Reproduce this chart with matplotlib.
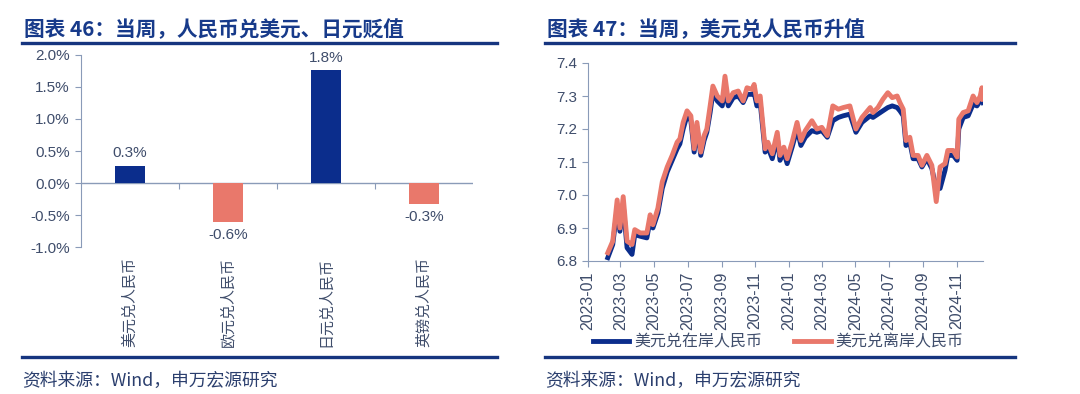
import matplotlib
matplotlib.use("Agg")
import matplotlib.pyplot as plt
from matplotlib.lines import Line2D
import pandas as pd

plt.rcParams['font.family'] = ['Noto Sans CJK SC', 'DejaVu Sans']

# ---------------- data ----------------
bar_categories = ["美元兑人民币", "欧元兑人民币", "日元兑人民币", "英镑兑人民币"]
bar_values = [0.27, -0.61, 1.76, -0.33]  # weekly change, %
bar_colors_key = ["up", "down", "up", "down"]

line_dates = [
    "2023-02-06", "2023-02-15", "2023-02-23", "2023-02-28", "2023-03-06", "2023-03-13",
    "2023-03-22", "2023-03-27", "2023-04-06", "2023-04-18", "2023-04-24", "2023-04-29",
    "2023-05-08", "2023-05-16", "2023-05-25", "2023-06-03", "2023-06-12", "2023-06-17",
    "2023-06-23", "2023-06-30", "2023-07-07", "2023-07-13", "2023-07-18", "2023-07-25",
    "2023-07-31", "2023-08-05", "2023-08-11", "2023-08-16", "2023-08-24", "2023-09-02",
    "2023-09-07", "2023-09-13", "2023-09-22", "2023-10-01", "2023-10-10", "2023-10-17",
    "2023-10-26", "2023-10-30", "2023-11-04", "2023-11-10", "2023-11-19", "2023-11-24",
    "2023-12-02", "2023-12-11", "2023-12-16", "2023-12-23", "2023-12-29", "2024-01-07",
    "2024-01-16", "2024-01-23", "2024-01-31", "2024-02-12", "2024-02-21", "2024-03-01",
    "2024-03-11", "2024-03-21", "2024-03-31", "2024-04-09", "2024-04-21", "2024-05-02",
    "2024-05-13", "2024-05-28", "2024-06-02", "2024-06-11", "2024-06-20", "2024-06-29",
    "2024-07-07", "2024-07-16", "2024-07-21", "2024-07-27", "2024-08-01", "2024-08-08",
    "2024-08-14", "2024-08-23", "2024-08-30", "2024-09-08", "2024-09-17", "2024-09-25",
    "2024-10-02", "2024-10-11", "2024-10-16", "2024-10-26", "2024-11-02", "2024-11-05",
    "2024-11-13", "2024-11-22", "2024-12-01", "2024-12-08", "2024-12-14", "2024-12-17",
    "2024-12-19",
]
usdcny_onshore = [
    6.810, 6.850, 6.960, 6.890, 6.970, 6.840,
    6.820, 6.880, 6.875, 6.870, 6.925, 6.900,
    6.945, 7.020, 7.070, 7.105, 7.140, 7.155,
    7.200, 7.240, 7.225, 7.130, 7.205, 7.120,
    7.165, 7.190, 7.250, 7.310, 7.285, 7.270,
    7.320, 7.270, 7.295, 7.300, 7.280, 7.305,
    7.305, 7.310, 7.270, 7.280, 7.130, 7.145,
    7.110, 7.175, 7.105, 7.130, 7.095, 7.145,
    7.200, 7.150, 7.175, 7.195, 7.190, 7.195,
    7.175, 7.225, 7.235, 7.240, 7.245, 7.190,
    7.220, 7.240, 7.235, 7.245, 7.255, 7.265,
    7.270, 7.265, 7.255, 7.240, 7.150, 7.160,
    7.110, 7.110, 7.085, 7.110, 7.080, 7.020,
    7.020, 7.075, 7.120, 7.120, 7.105, 7.200,
    7.235, 7.240, 7.275, 7.270, 7.285, 7.290,
    7.280,
]
usdcnh_offshore = [
    6.825, 6.860, 6.985, 6.900, 6.995, 6.860,
    6.850, 6.895, 6.885, 6.885, 6.940, 6.910,
    6.960, 7.040, 7.085, 7.120, 7.160, 7.170,
    7.220, 7.255, 7.240, 7.140, 7.220, 7.130,
    7.180, 7.200, 7.270, 7.330, 7.300, 7.285,
    7.360, 7.285, 7.310, 7.315, 7.285, 7.325,
    7.320, 7.335, 7.285, 7.300, 7.140, 7.160,
    7.125, 7.190, 7.120, 7.145, 7.110, 7.160,
    7.220, 7.165, 7.195, 7.225, 7.200, 7.205,
    7.180, 7.270, 7.260, 7.265, 7.270, 7.200,
    7.235, 7.265, 7.250, 7.265, 7.290, 7.310,
    7.295, 7.300, 7.280, 7.260, 7.165, 7.175,
    7.120, 7.120, 7.090, 7.120, 7.090, 6.980,
    7.085, 7.095, 7.135, 7.135, 7.115, 7.230,
    7.250, 7.255, 7.300, 7.280, 7.300, 7.325,
    7.290,
]
line_labels = ["美元兑在岸人民币", "美元兑离岸人民币"]

titles = ["图表 46：当周，人民币兑美元、日元贬值", "图表 47：当周，美元兑人民币升值"]
source_text = "资料来源：Wind，申万宏源研究"

# ---------------- style ----------------
NAVY = "#0B2D8C"
SALMON = "#E9786B"
TITLE_C = "#173A8A"
RULE_C = "#16357F"
TXT_C = "#3F4D6B"
AX_C = "#8A9BB8"
NUM_FONT = ['Liberation Sans', 'Noto Sans CJK SC']
LW = 3.5

W, H = 1080, 394
fig = plt.figure(figsize=(W / 100, H / 100), dpi=100)

def fx(px):
    return px / W

def fy(py):
    return 1 - py / H

# titles / rules / source
for (x0, x1), t in zip([(22, 497), (545, 1015)], titles):
    fig.text(fx(x0 + 2), fy(30), t, fontsize=14.9, fontweight='bold', color=TITLE_C,
             ha='left', va='center')
    fig.add_artist(Line2D([fx(x0), fx(x1)], [fy(43), fy(43)], color=RULE_C, lw=2.4))
    fig.add_artist(Line2D([fx(x0), fx(x1)], [fy(357), fy(357)], color=RULE_C, lw=2.4))
    fig.text(fx(x0), fy(381), source_text, fontsize=12.8, color="#2B3F6E",
             ha='left', va='center')

# ---------------- left: bar chart ----------------
axL = fig.add_axes([fx(81), fy(247), fx(473 - 81), (247 - 55) / H])
pos = list(range(len(bar_categories)))
cols = [NAVY if k == "up" else SALMON for k in bar_colors_key]
axL.bar(pos, bar_values, width=0.31, color=cols, zorder=3)
axL.set_xlim(-0.5, len(bar_categories) - 0.5)
axL.set_ylim(-1.0, 2.0)
axL.set_yticks([-1.0, -0.5, 0.0, 0.5, 1.0, 1.5, 2.0])
axL.set_yticklabels([f"{v:.1f}%" for v in axL.get_yticks()], family=NUM_FONT,
                    fontsize=11, color=TXT_C)
axL.set_xticks(pos)
axL.set_xticklabels(bar_categories, rotation=90, fontsize=10.8, color=TXT_C, va='top')
axL.tick_params(axis='x', length=0, pad=7)
axL.tick_params(axis='y', length=4, color=AX_C, direction='out', pad=4)
for s in ['top', 'right', 'bottom']:
    axL.spines[s].set_visible(False)
axL.spines['left'].set_color(AX_C)
axL.axhline(0, color=AX_C, lw=1.0, zorder=2)
sec = axL.secondary_xaxis(1 / 3)
sec.set_xticks([0.5, 1.5, 2.5])
sec.set_xticklabels([])
sec.tick_params(axis='x', direction='out', length=4, color=AX_C)
sec.spines['bottom'].set_visible(False)
for p, v in zip(pos, bar_values):
    off = 0.09 if v >= 0 else -0.09
    axL.text(p, v + off, f"{v:.1f}%", ha='center', va='bottom' if v >= 0 else 'top',
             fontsize=11, color=TXT_C, family=NUM_FONT)

# ---------------- right: line chart ----------------
axR = fig.add_axes([fx(588), fy(261), fx(983 - 588), (261 - 63) / H])
d = pd.to_datetime(line_dates)
axR.plot(d, usdcny_onshore, color=NAVY, lw=LW, label=line_labels[0], zorder=3,
         solid_joinstyle='round')
axR.plot(d, usdcnh_offshore, color=SALMON, lw=LW, label=line_labels[1], zorder=4,
         solid_joinstyle='round')
axR.set_xlim(pd.Timestamp("2023-01-01"), pd.Timestamp("2024-12-19"))
axR.set_ylim(6.8, 7.4)
axR.set_yticks([6.8, 6.9, 7.0, 7.1, 7.2, 7.3, 7.4])
axR.set_yticklabels([f"{v:.1f}" for v in axR.get_yticks()], family=NUM_FONT,
                    fontsize=11, color=TXT_C)
ticks = pd.date_range("2023-01-01", "2024-11-01", freq="2MS")
axR.set_xticks(ticks)
axR.set_xticklabels([t.strftime("%Y-%m") for t in ticks], rotation=90, family=NUM_FONT,
                    fontsize=11.5, color=TXT_C)
axR.tick_params(axis='both', length=4, color=AX_C, direction='out')
for s in ['top', 'right']:
    axR.spines[s].set_visible(False)
axR.spines['left'].set_color(AX_C)
axR.spines['bottom'].set_color(AX_C)

handles = [Line2D([], [], color=NAVY, lw=LW), Line2D([], [], color=SALMON, lw=LW)]
fig.legend(handles, line_labels, loc='center', bbox_to_anchor=(fx(778), fy(342)),
           ncol=2, frameon=False, fontsize=11.5, handlelength=2.3, handletextpad=0.3,
           columnspacing=2.0, labelcolor=TXT_C)

fig.savefig("out.png", dpi=100)
